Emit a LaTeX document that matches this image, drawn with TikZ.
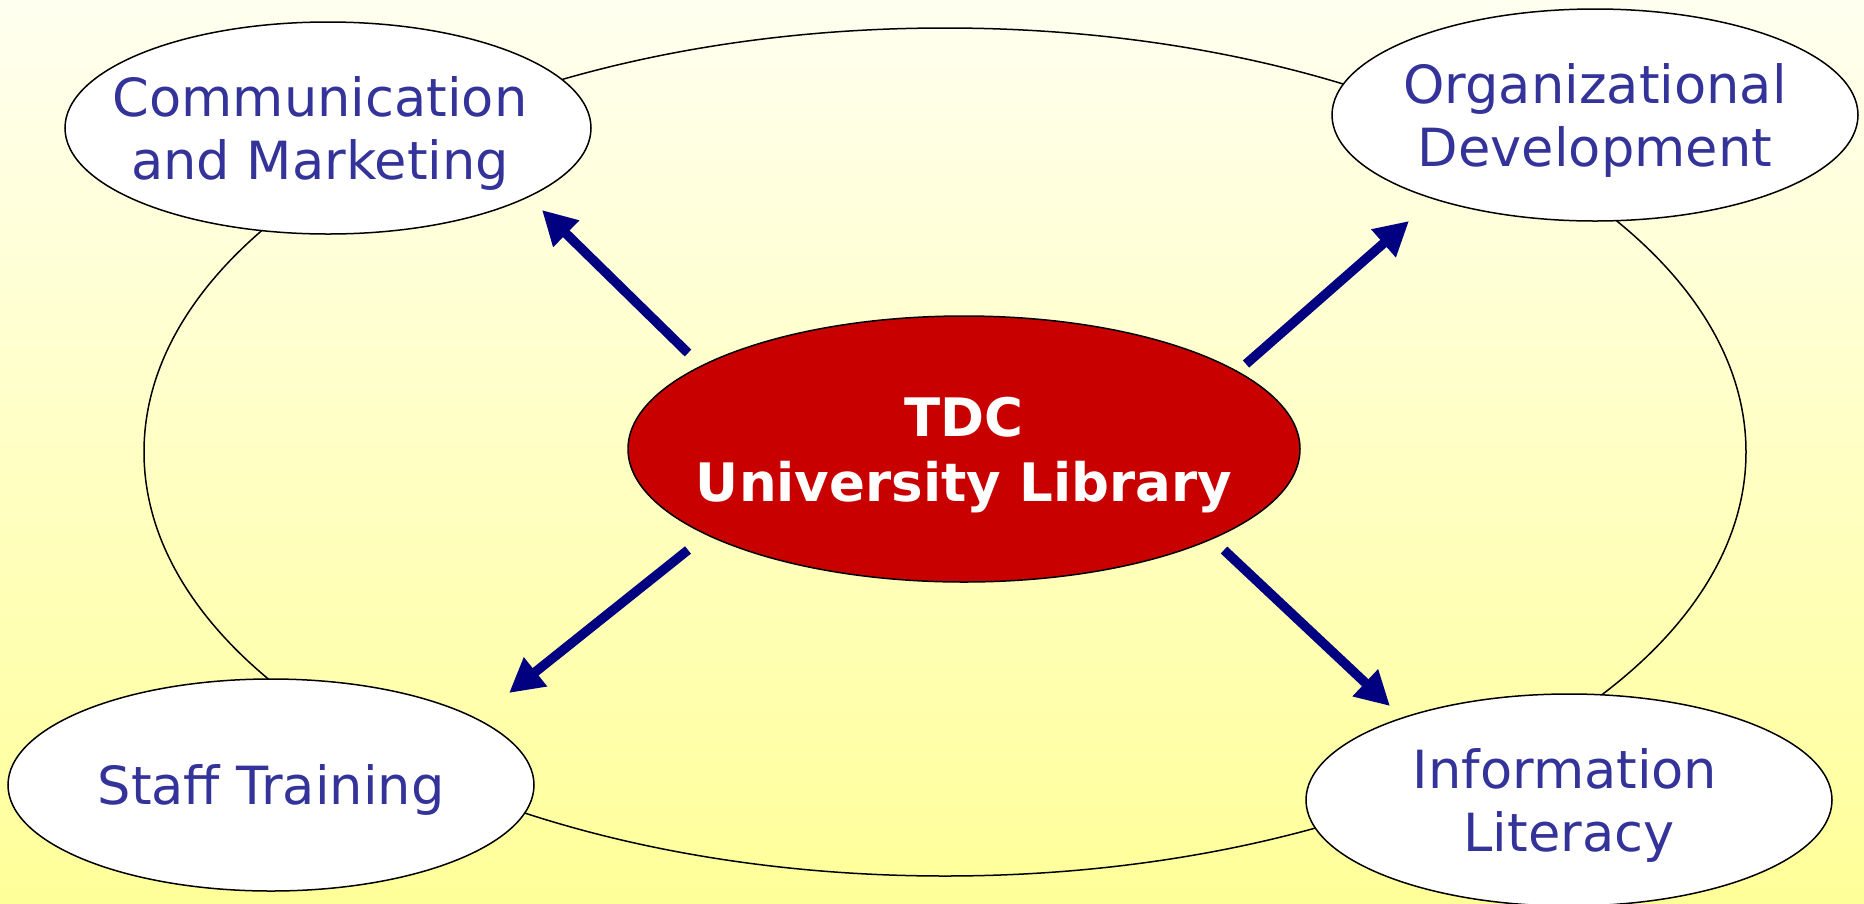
\documentclass[tikz,border=0pt]{standalone}
\usepackage{fontspec}
\setmainfont{DejaVu Sans}
\usepackage{tikz}
\usetikzlibrary{shapes.geometric}
\usetikzlibrary{arrows.meta}
\definecolor{topicblue}{HTML}{333399}
\definecolor{spokenavy}{HTML}{000080}
\definecolor{hubred}{HTML}{C80000}
\definecolor{paleyellow}{HTML}{FFFFF0}
\definecolor{deepyellow}{HTML}{FFFF99}
\tikzset{
    topic/.style={ellipse, draw=black, line width=1.5pt, fill=white, inner sep=-60pt,
        minimum width=526pt, minimum height=212pt, text=topicblue, align=center,
        text depth=0pt, font=\fontsize{52.6}{63}\selectfont},
    hub/.style={ellipse, draw=black, line width=1.5pt, fill=hubred, inner sep=-60pt,
        minimum width=672pt, minimum height=266pt, text=white, align=center,
        text depth=0pt, font=\fontsize{53}{65}\selectfont\bfseries},
    spoke/.style={spokenavy, line width=9.5pt, -{Triangle[length=34pt, width=35pt]}}
}

\begin{document}
\begin{tikzpicture}[x=1pt, y=-1pt]
    \shade[top color=paleyellow, bottom color=deepyellow] (0, 0) rectangle (1864, 903);
    \useasboundingbox (0, 0) rectangle (1864, 903);
    \draw[line width=1.5pt] (945, 452) ellipse [x radius=801, y radius=424];
    \node[topic] (comm) at (328, 128) {Communication\hspace*{16pt}\\and Marketing\hspace*{16pt}};
    \node[topic] (org) at (1595, 115) {Organizational\\Development};
    \node[topic] (staff) at (271, 785) {Staff Training};
    \node[topic] (info) at (1569, 800) {Information\hspace*{8pt}\\Literacy};
    \node[hub] (tdc) at (964, 449) {TDC\\University Library};
    \coordinate (comm-from) at (688, 353);
    \coordinate (comm-to) at (542, 210);
    \coordinate (org-from) at (1246, 364);
    \coordinate (org-to) at (1409, 221);
    \coordinate (staff-from) at (688, 550);
    \coordinate (staff-to) at (509, 693);
    \coordinate (info-from) at (1224, 550);
    \coordinate (info-to) at (1390, 706);
    \draw[spoke] (comm-from) -- (comm-to);
    \draw[spoke] (org-from) -- (org-to);
    \draw[spoke] (staff-from) -- (staff-to);
    \draw[spoke] (info-from) -- (info-to);
\end{tikzpicture}
\end{document}
